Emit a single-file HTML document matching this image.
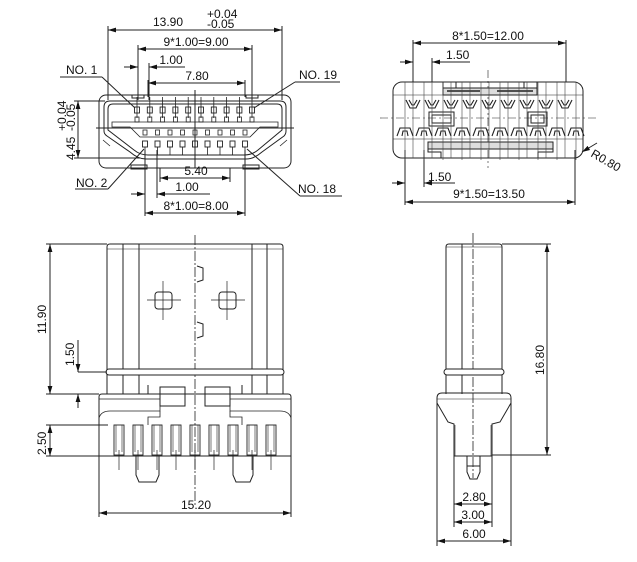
<!DOCTYPE html>
<html><head><meta charset="utf-8"><style>
html,body{margin:0;padding:0;background:#fff}
svg{display:block}
text{font-family:"Liberation Sans",sans-serif;font-size:12px;fill:#111}
</style></head><body>
<svg width="637" height="562" viewBox="0 0 637 562" xmlns="http://www.w3.org/2000/svg">
<defs>
<marker id="a" viewBox="0 0 10 6" refX="10" refY="3" markerWidth="8" markerHeight="5" orient="auto-start-reverse"><path d="M0,0L10,3L0,6z" fill="#111"/></marker>
<g id="tp"><rect x="-2.5" y="107" width="5" height="6" fill="none" stroke="#222" stroke-width="0.9"/><line x1="0" y1="97" x2="0" y2="118" stroke="#222" stroke-width="0.8"/><rect x="-2" y="117" width="4" height="5" fill="none" stroke="#222" stroke-width="0.8"/></g>
<g id="bp"><rect x="-2" y="130" width="4" height="5" fill="none" stroke="#222" stroke-width="0.8"/><rect x="-2.5" y="141" width="5" height="6" fill="none" stroke="#222" stroke-width="0.9"/><line x1="0" y1="147" x2="0" y2="155" stroke="#222" stroke-width="0.8"/></g>
<g id="uc"><path d="M-7,100 L-3,108 L3,108 L7,100 M-4,100 L-1,105 L1,105 L4,100" fill="none" stroke="#222" stroke-width="1.1"/><line x1="0" y1="82" x2="0" y2="158" stroke="#444" stroke-width="0.6"/></g>
<g id="lc"><path d="M-8,136 L-5,128 L5,128 L8,136 M-3,136 L-2,131 L2,131 L3,136" fill="none" stroke="#222" stroke-width="1.1"/><line x1="0" y1="82" x2="0" y2="160" stroke="#444" stroke-width="0.6"/></g>
<g id="pin"><rect x="-5" y="425" width="10" height="30" fill="none" stroke="#222" stroke-width="0.9"/><line x1="-3" y1="425" x2="-3" y2="452" stroke="#222" stroke-width="0.6"/><line x1="3" y1="425" x2="3" y2="452" stroke="#222" stroke-width="0.6"/><line x1="0" y1="450" x2="0" y2="470" stroke="#222" stroke-width="0.7"/></g>
</defs>
<g fill="none" stroke="#222" stroke-width="1">
<line x1="108" y1="30" x2="282" y2="30" marker-start="url(#a)" marker-end="url(#a)"/>
<line x1="108" y1="26" x2="108" y2="100"/><line x1="282" y1="26" x2="282" y2="100"/>
<line x1="138" y1="49" x2="252" y2="49" marker-start="url(#a)" marker-end="url(#a)"/>
<line x1="138" y1="45" x2="138" y2="100"/><line x1="252" y1="45" x2="252" y2="100"/>
<line x1="124" y1="67" x2="138" y2="67" marker-end="url(#a)"/>
<line x1="149" y1="67" x2="185" y2="67" marker-start="url(#a)"/>
<line x1="149" y1="63" x2="149" y2="100"/>
<line x1="148" y1="83" x2="245" y2="83" marker-start="url(#a)" marker-end="url(#a)"/>
<line x1="148" y1="80" x2="148" y2="97"/><line x1="245" y1="80" x2="245" y2="97"/>
<line x1="195" y1="90" x2="195" y2="168"/>
<line x1="60" y1="77" x2="102" y2="77"/><line x1="102" y1="77" x2="135" y2="108"/>
<line x1="295" y1="82" x2="340" y2="82"/><line x1="295" y1="82" x2="254" y2="108"/>
<line x1="78" y1="101" x2="78" y2="158" marker-start="url(#a)" marker-end="url(#a)"/>
<line x1="74" y1="101" x2="105" y2="101"/><line x1="74" y1="158" x2="140" y2="158"/>
<line x1="96" y1="128" x2="294" y2="128"/>
<rect x="99" y="95" width="192" height="73" rx="7"/>
<path d="M110,101 Q104,101 104,107 L104,131 Q104,134 107,136 L130,152 Q138,159 146,159 L246,159 Q254,159 262,152 L284,136 Q286,134 286,131 L286,107 Q286,101 280,101 Z"/>
<path d="M113,104 Q108,104 108,109 L108,130 L134,150 Q140,155 148,155 L244,155 Q252,155 258,150 L282,130 L282,109 Q282,104 277,104 Z"/>
<path d="M112,122 L278,122 L278,127 L260,127 L250,137 L140,137 L130,127 L112,127 Z" stroke-width="0.8"/>
<path d="M103,140 L110,146 M287,140 L280,146" stroke-width="0.8"/>
<rect x="132" y="95" width="12" height="3"/><rect x="246" y="95" width="12" height="3"/>
<rect x="131" y="165" width="16" height="4"/><rect x="243" y="165" width="16" height="4"/>
<line x1="145" y1="150" x2="145" y2="216"/><line x1="157" y1="150" x2="157" y2="198"/>
<line x1="160" y1="168" x2="160" y2="182"/><line x1="230" y1="168" x2="230" y2="182"/>
<line x1="245" y1="150" x2="245" y2="216"/>
<line x1="160" y1="178" x2="230" y2="178" marker-start="url(#a)" marker-end="url(#a)"/>
<line x1="131" y1="194" x2="145" y2="194" marker-end="url(#a)"/>
<line x1="157" y1="194" x2="210" y2="194" marker-start="url(#a)"/>
<line x1="145" y1="213" x2="245" y2="213" marker-start="url(#a)" marker-end="url(#a)"/>
<line x1="75" y1="189" x2="108" y2="189"/><line x1="108" y1="189" x2="144" y2="149"/>
<line x1="300" y1="196" x2="342" y2="196"/><line x1="300" y1="196" x2="247" y2="149"/>
</g>
<use href="#tp" x="137"/><use href="#tp" x="149.8"/><use href="#tp" x="162.6"/><use href="#tp" x="175.4"/><use href="#tp" x="188.2"/><use href="#tp" x="201"/><use href="#tp" x="213.8"/><use href="#tp" x="226.6"/><use href="#tp" x="239.4"/><use href="#tp" x="252"/>
<use href="#bp" x="145"/><use href="#bp" x="157.5"/><use href="#bp" x="170"/><use href="#bp" x="182.5"/><use href="#bp" x="195"/><use href="#bp" x="207.5"/><use href="#bp" x="220"/><use href="#bp" x="232.5"/><use href="#bp" x="245"/>
<text x="168" y="26" text-anchor="middle">13.90</text>
<text x="207" y="18" font-size="10">+0.04</text><text x="207" y="28" font-size="10">-0.05</text>
<text x="196" y="46" text-anchor="middle">9*1.00=9.00</text>
<text x="171" y="64" text-anchor="middle">1.00</text>
<text x="197" y="80" text-anchor="middle">7.80</text>
<text x="66" y="74">NO. 1</text>
<text x="299" y="79">NO. 19</text>
<text x="76" y="187">NO. 2</text>
<text x="298" y="193">NO. 18</text>
<text x="196" y="175" text-anchor="middle">5.40</text>
<text x="187" y="191" text-anchor="middle">1.00</text>
<text x="196" y="210" text-anchor="middle">8*1.00=8.00</text>
<text transform="translate(75,160) rotate(-90)" font-size="11">4.45</text>
<text transform="translate(66,131) rotate(-90)" font-size="10">+0.04</text>
<text transform="translate(75,131) rotate(-90)" font-size="10">-0.05</text>

<g fill="none" stroke="#222" stroke-width="1">
<line x1="413" y1="43" x2="566" y2="43" marker-start="url(#a)" marker-end="url(#a)"/>
<line x1="413" y1="40" x2="413" y2="82"/><line x1="566" y1="40" x2="566" y2="82"/>
<line x1="400" y1="62" x2="413" y2="62" marker-end="url(#a)"/>
<line x1="432" y1="62" x2="470" y2="62" marker-start="url(#a)"/>
<line x1="432" y1="58" x2="432" y2="82"/>
<rect x="393" y="82" width="190" height="76" rx="9"/>
<line x1="393" y1="95" x2="583" y2="95" stroke-width="0.6"/>
<line x1="393" y1="139" x2="583" y2="139" stroke-width="0.6"/>
<line x1="380" y1="118" x2="596" y2="118" stroke-width="0.6" stroke-dasharray="8,3,2,3"/>
<line x1="488" y1="70" x2="488" y2="168" stroke-width="0.6" stroke-dasharray="8,3,2,3"/>
<rect x="443" y="88" width="94" height="7" fill="#ddd"/>
<path d="M443,88 L443,82 L456,82 L456,88 M537,88 L537,82 L524,82 L524,88"/>
<line x1="447" y1="91" x2="480" y2="91" stroke-width="1.4"/><line x1="497" y1="91" x2="533" y2="91" stroke-width="1.4"/>
<rect x="428" y="142" width="125" height="7" fill="#ddd"/>
<path d="M428,149 L428,152 L441,152 L441,158 M553,149 L553,152 L538,152 L538,158"/>
<rect x="429" y="112" width="25" height="14"/><rect x="432" y="115" width="19" height="8"/>
<rect x="528" y="112" width="19" height="14"/><rect x="531" y="115" width="13" height="8"/>
<line x1="405" y1="150" x2="405" y2="205"/><line x1="424" y1="150" x2="424" y2="187"/>
<line x1="575" y1="150" x2="575" y2="205"/>
<line x1="392" y1="183" x2="405" y2="183" marker-end="url(#a)"/>
<line x1="424" y1="183" x2="455" y2="183" marker-start="url(#a)"/>
<line x1="405" y1="202" x2="575" y2="202" marker-start="url(#a)" marker-end="url(#a)"/>
<line x1="582" y1="152" x2="597" y2="143" marker-start="url(#a)"/>
</g>
<use href="#uc" x="413"/><use href="#uc" x="432"/><use href="#uc" x="451"/><use href="#uc" x="470"/><use href="#uc" x="489"/><use href="#uc" x="508"/><use href="#uc" x="527"/><use href="#uc" x="546"/><use href="#uc" x="565"/>
<use href="#lc" x="405"/><use href="#lc" x="424"/><use href="#lc" x="443"/><use href="#lc" x="462"/><use href="#lc" x="481"/><use href="#lc" x="500"/><use href="#lc" x="519"/><use href="#lc" x="538"/><use href="#lc" x="557"/><use href="#lc" x="576"/>
<text x="488" y="40" text-anchor="middle">8*1.50=12.00</text>
<text x="446" y="59">1.50</text>
<text x="428" y="181">1.50</text>
<text x="489" y="198" text-anchor="middle">9*1.50=13.50</text>
<text transform="translate(590,156) rotate(30)">R0.80</text>

<g fill="none" stroke="#222" stroke-width="1">
<path d="M107,394 L107,247 Q107,244 110,244 L280,244 Q283,244 283,247 L283,394"/>
<line x1="107" y1="249" x2="283" y2="249" stroke-width="0.6"/>
<line x1="123" y1="244" x2="123" y2="394"/><line x1="139" y1="244" x2="139" y2="394"/>
<line x1="252" y1="244" x2="252" y2="394"/><line x1="267" y1="244" x2="267" y2="394"/>
<line x1="195" y1="235" x2="195" y2="505" stroke-width="0.8" stroke-dasharray="10,2,2,2"/>
<path d="M197,266 L203,268 L203,280 L197,282 M197,322 L203,324 L203,336 L197,338"/>
<rect x="155" y="292" width="17" height="17" rx="3"/><rect x="219" y="292" width="17" height="17" rx="3"/>
<line x1="147" y1="300" x2="181" y2="300" stroke-width="0.7"/><line x1="163" y1="281" x2="163" y2="320" stroke-width="0.7"/>
<line x1="211" y1="300" x2="245" y2="300" stroke-width="0.7"/><line x1="227" y1="281" x2="227" y2="320" stroke-width="0.7"/>
<rect x="106" y="369" width="178" height="6" rx="3" fill="#fff"/>
<rect x="160" y="387" width="25" height="19"/><rect x="205" y="387" width="25" height="19"/>
<line x1="148" y1="385" x2="148" y2="394"/><line x1="242" y1="385" x2="242" y2="394"/>
<path d="M99,456 L99,397 Q99,394 102,394 L288,394 Q291,394 291,397 L291,456 Z"/>
<line x1="99" y1="399" x2="160" y2="399" stroke-width="0.7"/><line x1="230" y1="399" x2="291" y2="399" stroke-width="0.7"/>
<path d="M99,418 Q101,411 110,411 L160,411 L160,406 M291,418 Q289,411 280,411 L230,411 L230,406" stroke-width="0.8"/>
<path d="M148,425 L148,417 L160,417 L160,411 M242,425 L242,417 L230,417 L230,411" stroke-width="0.8"/>
<path d="M136,456 L136,475 L139,482 L156,482 L159,475 L159,456"/>
<path d="M233,456 L233,475 L236,482 L250,482 L253,475 L253,456"/>
<line x1="50" y1="244" x2="50" y2="394" marker-start="url(#a)" marker-end="url(#a)"/>
<line x1="46" y1="244" x2="107" y2="244"/><line x1="46" y1="394" x2="99" y2="394"/>
<line x1="78" y1="340" x2="78" y2="372" marker-end="url(#a)"/>
<line x1="78" y1="372" x2="107" y2="372"/>
<line x1="78" y1="408" x2="78" y2="394" marker-end="url(#a)"/>
<line x1="50" y1="425" x2="50" y2="456" marker-start="url(#a)" marker-end="url(#a)"/>
<line x1="46" y1="425" x2="108" y2="425"/><line x1="46" y1="456" x2="99" y2="456"/>
<line x1="99" y1="456" x2="99" y2="517"/><line x1="291" y1="456" x2="291" y2="517"/>
<line x1="99" y1="513" x2="291" y2="513" marker-start="url(#a)" marker-end="url(#a)"/>
</g>
<use href="#pin" x="119"/><use href="#pin" x="138"/><use href="#pin" x="157"/><use href="#pin" x="176"/><use href="#pin" x="195"/><use href="#pin" x="214"/><use href="#pin" x="233"/><use href="#pin" x="252"/><use href="#pin" x="271"/>
<text transform="translate(46,334) rotate(-90)">11.90</text>
<text transform="translate(74,366) rotate(-90)">1.50</text>
<text transform="translate(46,455) rotate(-90)">2.50</text>
<text x="196" y="509" text-anchor="middle">15.20</text>

<g fill="none" stroke="#222" stroke-width="1">
<path d="M446,394 L446,247 Q446,244 449,244 L499,244 Q502,244 502,247 L502,394"/>
<line x1="446" y1="247" x2="502" y2="247" stroke-width="0.6"/>
<line x1="462" y1="244" x2="462" y2="394"/>
<line x1="473" y1="233" x2="473" y2="478" stroke-width="0.8" stroke-dasharray="10,2,2,2"/>
<rect x="444" y="369" width="60" height="6" rx="3" fill="#fff"/>
<path d="M437,398 Q437,393 442,393 L506,393 Q511,393 511,398 L511,403 L500,422 L492,424 L492,456 L454,456 L454,424 L448,422 L437,403 Z"/>
<line x1="437" y1="399" x2="511" y2="399" stroke-width="0.6"/>
<line x1="455" y1="425" x2="455" y2="456" stroke-width="0.6"/><line x1="491" y1="425" x2="491" y2="456" stroke-width="0.6"/>
<path d="M467,456 L467,472 L470,479 L477,479 L480,472 L480,456 M467,466 L480,466"/>
<line x1="502" y1="244" x2="551" y2="244"/><line x1="492" y1="455" x2="551" y2="455"/>
<line x1="547" y1="244" x2="547" y2="455" marker-start="url(#a)" marker-end="url(#a)"/>
<line x1="454" y1="456" x2="454" y2="527"/><line x1="492" y1="456" x2="492" y2="527"/>
<line x1="437" y1="403" x2="437" y2="546"/><line x1="511" y1="403" x2="511" y2="546"/>
<line x1="454" y1="504" x2="492" y2="504" marker-start="url(#a)" marker-end="url(#a)"/>
<line x1="454" y1="522" x2="492" y2="522" marker-start="url(#a)" marker-end="url(#a)"/>
<line x1="437" y1="541" x2="511" y2="541" marker-start="url(#a)" marker-end="url(#a)"/>
</g>
<text x="474" y="501" text-anchor="middle">2.80</text>
<text x="473" y="519" text-anchor="middle">3.00</text>
<text x="474" y="538" text-anchor="middle">6.00</text>
<text transform="translate(544,375) rotate(-90)">16.80</text>
</svg>
</body></html>
